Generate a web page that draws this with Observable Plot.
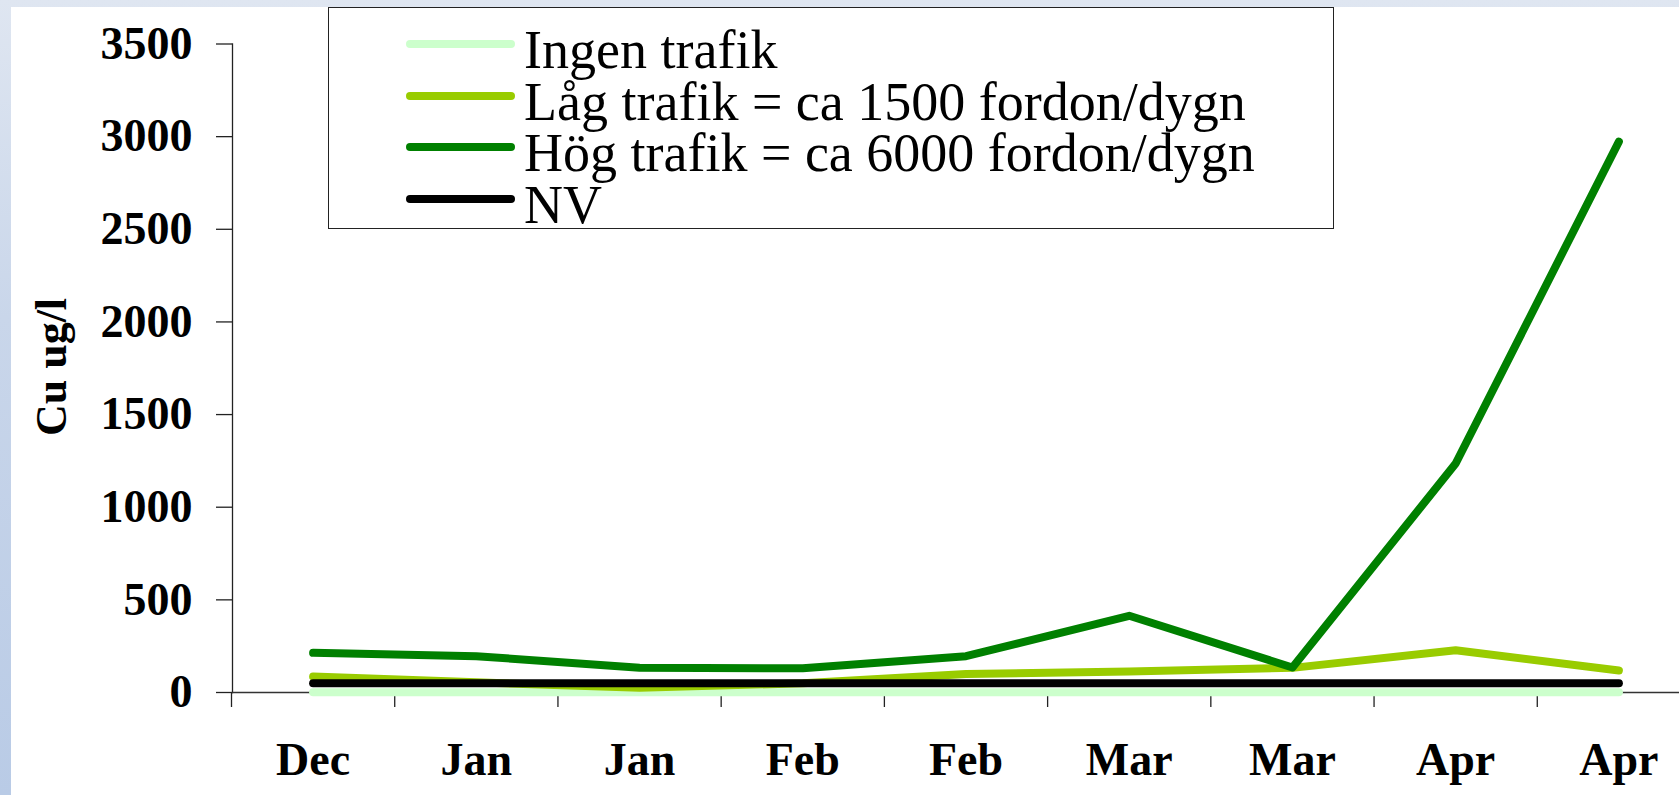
<!DOCTYPE html>
<html>
<head>
<meta charset="utf-8">
<script src="https://cdn.jsdelivr.net/npm/d3@7"></script>
<script src="https://cdn.jsdelivr.net/npm/@observablehq/plot@0.6"></script>
<style>
  html, body { margin: 0; padding: 0; }
  body {
    width: 1679px; height: 795px; overflow: hidden; position: relative;
    background: linear-gradient(180deg, #dfe6f1 0%, #c9d6ea 40%, #b9cbe6 100%);
  }
  #panel { position: absolute; left: 11px; top: 7px; right: 0; bottom: 0; background: #fff; }
  #chart { position: absolute; left: 0; top: 0; }
  #ytitle {
    position: absolute; left: 51px; top: 367px;
    transform: translate(-50%, -50%) rotate(-90deg);
    font: bold 44px "Liberation Serif", "Times New Roman", serif; white-space: nowrap; color: #000;
  }
  #legend {
    position: absolute; left: 328px; top: 7px; width: 1004px; height: 220px;
    border: 1.5px solid #222; background: #fff; box-sizing: content-box;
  }
  .row { position: absolute; left: 0; height: 51.5px; }
  .sw { position: absolute; left: 77px; top: 17px; width: 109px; height: 8px; border-radius: 4px; }
  .lt { position: absolute; left: 195px; top: -4px; line-height: 51.5px; white-space: nowrap;
        font: 54px "Liberation Serif", "Times New Roman", serif; color: #000; }
</style>
</head>
<body>
<div id="panel"></div>
<div id="chart"></div>
<div id="ytitle">Cu ug/l</div>
<div id="legend"></div>
<script>
// ---- data ----
const categories = ["Dec", "Jan", "Jan", "Feb", "Feb", "Mar", "Mar", "Apr", "Apr"];
const seriesNames = ["Ingen trafik", "Låg trafik = ca 1500 fordon/dygn", "Hög trafik = ca 6000 fordon/dygn", "NV"];
const seriesColors = ["#ccffcc", "#99cc00", "#008000", "#000000"];
const ingenTrafik = [2, 2, 2, 2, 2, 2, 2, 2, 2];
const lagTrafik = [86, 55, 25, 50, 100, 114, 133, 228, 119];
const hogTrafik = [214, 196, 133, 131, 196, 414, 135, 1236, 2973];
const nv = [50, 50, 50, 50, 50, 50, 50, 50, 50];
const yTicks = [0, 500, 1000, 1500, 2000, 2500, 3000, 3500];

const allSeries = [ingenTrafik, lagTrafik, hogTrafik, nv];
const rows = [];
allSeries.forEach((vals, s) => vals.forEach((v, i) => rows.push({ i, v, series: seriesNames[s] })));

const idx = categories.map((_, i) => i);
const boundaries = [-0.5, ...idx.map(i => i + 0.5)];

const font = '"Liberation Serif", "Times New Roman", serif';

const plot = Plot.plot({
  width: 1679,
  height: 795,
  marginLeft: 232,
  marginRight: 0,
  marginTop: 43.5,
  marginBottom: 103,
  style: { background: "transparent", fontFamily: font, color: "#000", overflow: "visible" },
  x: { type: "linear", domain: [-0.5, categories.length - 0.5], range: [231, 1700] },
  y: { domain: [0, 3500], range: [692, 43.5] },
  color: { domain: seriesNames, range: seriesColors },
  marks: [
    Plot.frame({ anchor: "left", stroke: "#222", strokeWidth: 1.3 }),
    Plot.frame({ anchor: "bottom", stroke: "#333", strokeWidth: 1.3 }),
    Plot.axisY({ ticks: yTicks, tickSize: 16, tickPadding: 24, stroke: "#222", strokeWidth: 1.3,
      fontSize: 46, fontWeight: "bold", label: null, tickFormat: d => String(d) }),
    Plot.axisX({ ticks: boundaries, tickSize: 15, tickFormat: () => "", stroke: "#222", strokeWidth: 1.3, label: null }),
    Plot.axisX({ ticks: idx, tickSize: 0, tickPadding: 50, tickFormat: i => categories[i],
      fontSize: 46, fontWeight: "bold", label: null }),
    Plot.line(rows, { x: "i", y: "v", z: "series", stroke: "series", strokeWidth: 8,
      strokeLinecap: "round", strokeLinejoin: "round" })
  ]
});
document.getElementById("chart").appendChild(plot);

// legend
const legend = document.getElementById("legend");
seriesNames.forEach((name, k) => {
  const row = document.createElement("div");
  row.className = "row";
  row.style.top = (15 + k * 51.5) + "px";
  const sw = document.createElement("div");
  sw.className = "sw";
  sw.style.background = seriesColors[k];
  const t = document.createElement("div");
  t.className = "lt";
  t.textContent = name;
  row.appendChild(sw);
  row.appendChild(t);
  legend.appendChild(row);
});
</script>
</body>
</html>
